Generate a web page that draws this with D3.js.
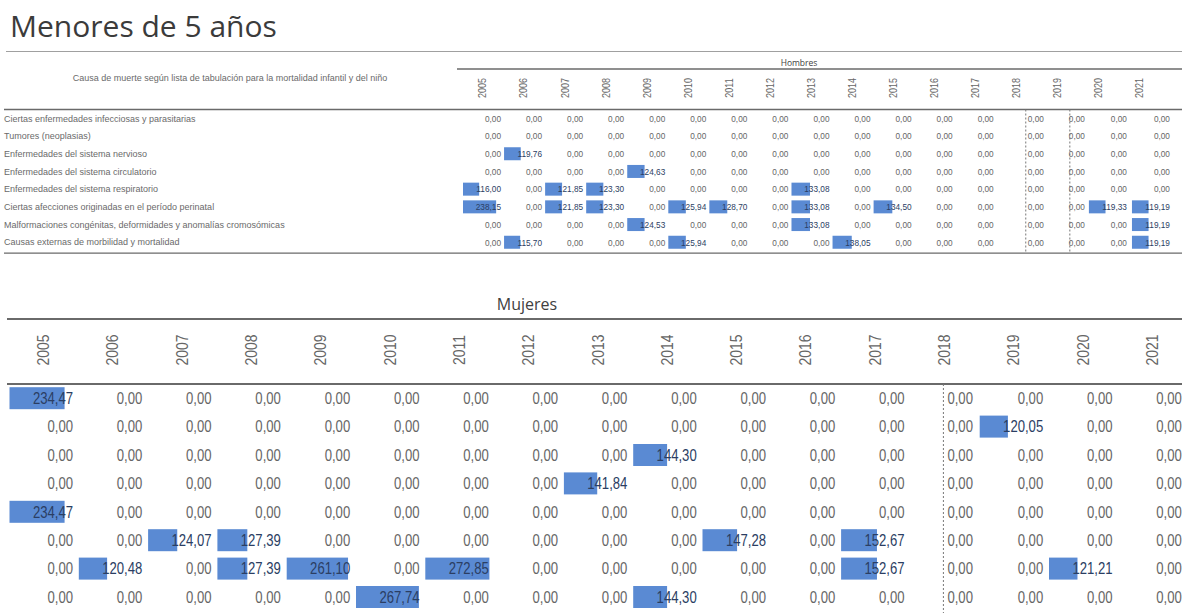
<!DOCTYPE html>
<html><head><meta charset="utf-8">
<script src="https://cdn.jsdelivr.net/npm/d3@7"></script>
<style>
html,body{margin:0;padding:0;background:#fff;overflow:hidden}
svg{display:block}
</style></head><body>
<svg id="c" width="1182" height="613"></svg>
<script>
// ---------- DATA ----------
const title = "Menores de 5 años";
const hombresLabel = "Hombres";
const mujeresLabel = "Mujeres";
const causeHeader = "Causa de muerte según lista de tabulación para la mortalidad infantil y del niño";
const years = ["2005","2006","2007","2008","2009","2010","2011","2012","2013","2014","2015","2016","2017","2018","2019","2020","2021"];
const causes = [
  "Ciertas enfermedades infecciosas y parasitarias",
  "Tumores (neoplasias)",
  "Enfermedades del sistema nervioso",
  "Enfermedades del sistema circulatorio",
  "Enfermedades del sistema respiratorio",
  "Ciertas afecciones originadas en el período perinatal",
  "Malformaciones congénitas, deformidades y anomalías cromosómicas",
  "Causas externas de morbilidad y mortalidad"
];
const hombresInfecciosas    = [0,0,0,0,0,0,0,0,0,0,0,0,0,0,0,0,0];
const hombresTumores        = [0,0,0,0,0,0,0,0,0,0,0,0,0,0,0,0,0];
const hombresNervioso       = [0,119.76,0,0,0,0,0,0,0,0,0,0,0,0,0,0,0];
const hombresCirculatorio   = [0,0,0,0,124.63,0,0,0,0,0,0,0,0,0,0,0,0];
const hombresRespiratorio   = [116.00,0,121.85,123.30,0,0,0,0,133.08,0,0,0,0,0,0,0,0];
const hombresPerinatal      = [238.15,0,121.85,123.30,0,125.94,128.70,0,133.08,0,134.50,0,0,0,0,119.33,119.19];
const hombresMalformaciones = [0,0,0,0,124.53,0,0,0,133.08,0,0,0,0,0,0,0,119.19];
const hombresExternas       = [0,115.70,0,0,0,125.94,0,0,0,138.05,0,0,0,0,0,0,119.19];

const mujeresInfecciosas    = [234.47,0,0,0,0,0,0,0,0,0,0,0,0,0,0,0,0];
const mujeresTumores        = [0,0,0,0,0,0,0,0,0,0,0,0,0,0,120.05,0,0];
const mujeresNervioso       = [0,0,0,0,0,0,0,0,0,144.30,0,0,0,0,0,0,0];
const mujeresCirculatorio   = [0,0,0,0,0,0,0,0,141.84,0,0,0,0,0,0,0,0];
const mujeresRespiratorio   = [234.47,0,0,0,0,0,0,0,0,0,0,0,0,0,0,0,0];
const mujeresPerinatal      = [0,0,124.07,127.39,0,0,0,0,0,0,147.28,0,152.67,0,0,0,0];
const mujeresMalformaciones = [0,120.48,0,127.39,261.10,0,272.85,0,0,0,0,0,152.67,0,0,121.21,0];
const mujeresExternas       = [0,0,0,0,0,267.74,0,0,0,144.30,0,0,0,0,0,0,0];

const hombres = [hombresInfecciosas,hombresTumores,hombresNervioso,hombresCirculatorio,hombresRespiratorio,hombresPerinatal,hombresMalformaciones,hombresExternas];
const mujeres = [mujeresInfecciosas,mujeresTumores,mujeresNervioso,mujeresCirculatorio,mujeresRespiratorio,mujeresPerinatal,mujeresMalformaciones,mujeresExternas];

// ---------- DRAW ----------
const svg = d3.select("#c");
const SANS = '"Liberation Sans",Arial,sans-serif';
const TITLEF = '"Open Sans","Noto Sans",sans-serif';
const fmt = v => d3.format(".2f")(v).replace(".", ",");
const BAR = "#5a8ad3";
const NARROW_K = 0.82;   // emulate Arial Narrow by horizontal compression

svg.append("text").attr("x", 10).attr("y", 37)
  .attr("font-family", TITLEF).attr("font-size", 30).attr("fill", "#3b3b3b")
  .text(title);
svg.append("line").attr("x1", 6).attr("x2", 1182).attr("y1", 51.5).attr("y2", 51.5)
  .attr("stroke", "#a0a0a0").attr("stroke-width", 1);

function drawTable(cfg) {
  const g = svg.append("g");
  const x = d3.scaleBand().domain(years).range(cfg.xRange);
  const y = d3.scaleBand().domain(causes).range(cfg.yRange);
  const bw = x.bandwidth();
  const bar = d3.scaleLinear().domain([0, 295]).range([0, bw]);

  g.append("line").attr("x1", cfg.topLineX).attr("x2", 1182).attr("y1", cfg.topLineY).attr("y2", cfg.topLineY)
    .attr("stroke", "#6a6a6a").attr("stroke-width", cfg.lineW);
  g.append("line").attr("x1", cfg.midLineX).attr("x2", 1182).attr("y1", cfg.yRange[0]).attr("y2", cfg.yRange[0])
    .attr("stroke", "#6a6a6a").attr("stroke-width", cfg.lineW);
  if (cfg.bottomLine)
    g.append("line").attr("x1", cfg.midLineX).attr("x2", 1182).attr("y1", cfg.yRange[1] + 2).attr("y2", cfg.yRange[1] + 2)
      .attr("stroke", "#6a6a6a").attr("stroke-width", cfg.lineW);

  g.append("text").attr("x", cfg.groupX).attr("y", cfg.groupY).attr("text-anchor", "middle")
    .attr("font-family", TITLEF).attr("font-size", cfg.groupSize).attr("fill", "#404040").text(cfg.group);

  g.selectAll("text.yr").data(years).join("text").attr("class", "yr")
    .attr("transform", d => `translate(${x(d) + bw / 2},${cfg.yearY}) rotate(-90) scale(${NARROW_K},1)`)
    .attr("text-anchor", "middle").attr("dy", "0.35em")
    .attr("font-family", SANS).attr("font-size", cfg.yearSize).attr("fill", "#666").text(d => d);

  cfg.dashed.forEach(d => {
    g.append("line").attr("x1", x(d.year) + d.dx).attr("x2", x(d.year) + d.dx)
      .attr("y1", cfg.yRange[0]).attr("y2", cfg.dashEnd)
      .attr("stroke", "#777").attr("stroke-width", 1).attr("stroke-dasharray", "2,2");
  });

  const cells = [];
  cfg.data.forEach((row, r) => row.forEach((v, c) => cells.push({ r, c, v, year: years[c], cause: causes[r] })));
  const shift = d => (cfg.shift[d.year] || 0);
  g.selectAll("rect.bar").data(cells.filter(d => d.v > 0)).join("rect").attr("class", "bar")
    .attr("x", d => x(d.year) + shift(d) + 1)
    .attr("y", d => y(d.cause) + (y.bandwidth() - cfg.barH) / 2)
    .attr("width", d => bar(d.v)).attr("height", cfg.barH)
    .attr("fill", BAR);
  const left = d => cfg.leftAlign.includes(d.year);
  g.selectAll("text.val").data(cells).join("text").attr("class", "val")
    .attr("transform", d => {
      const tx = left(d) ? x(d.year) + cfg.leftDx : x(d.year) + shift(d) + cfg.textDx;
      const ty = y(d.cause) + y.bandwidth() / 2;
      return `translate(${tx},${ty}) scale(${cfg.valK},1)`;
    })
    .attr("text-anchor", d => left(d) ? "start" : "end")
    .attr("dy", "0.36em")
    .attr("font-family", SANS).attr("font-size", cfg.valSize)
    .attr("fill", d => d.v > 0 ? "#2b3e63" : "#666")
    .text(d => fmt(d.v));

  if (cfg.rowLabels) {
    g.selectAll("text.cause").data(causes).join("text").attr("class", "cause")
      .attr("x", 4).attr("y", d => y(d) + y.bandwidth() / 2).attr("dy", "0.36em")
      .attr("font-family", SANS).attr("font-size", 9).attr("fill", "#6a6a6a").text(d => d);
    g.append("text").attr("x", 230).attr("y", 81).attr("text-anchor", "middle")
      .attr("font-family", SANS).attr("font-size", 9).attr("fill", "#6a6a6a").text(causeHeader);
  }
}

drawTable({
  data: hombres, group: hombresLabel,
  xRange: [462, 462 + 41.06 * 17], yRange: [109.5, 109.5 + 8 * 17.7],
  topLineX: 457, topLineY: 69, midLineX: 4, lineW: 1.3, bottomLine: true,
  groupX: 799, groupY: 66, groupSize: 8.5,
  yearY: 88, yearSize: 11,
  dashed: [{ year: "2018", dx: 30 }, { year: "2019", dx: 33 }], dashEnd: 253,
  shift: { "2020": 10, "2021": 12 },
  leftAlign: ["2018", "2019"], leftDx: 32,
  barH: 13, textDx: 39, valSize: 9, valK: 0.92,
  rowLabels: true
});

drawTable({
  data: mujeres, group: mujeresLabel,
  xRange: [8.5, 8.5 + 69.3 * 17], yRange: [384, 384 + 8 * 28.4],
  topLineX: 7, topLineY: 319, midLineX: 7, lineW: 2, bottomLine: false,
  groupX: 527, groupY: 310, groupSize: 16,
  yearY: 350, yearSize: 17,
  dashed: [{ year: "2018", dx: 34 }], dashEnd: 613,
  shift: {},
  leftAlign: ["2018"], leftDx: 38,
  barH: 22, textDx: 64.5, valSize: 16, valK: NARROW_K,
  rowLabels: false
});
</script>
</body></html>
